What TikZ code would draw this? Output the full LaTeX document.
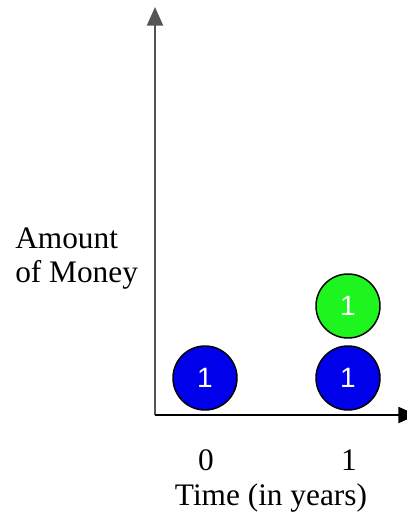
\documentclass[tikz,border=0pt]{standalone}
\usepackage{fontspec}
\setmainfont{Liberation Serif}
\setsansfont{Liberation Sans}
\usepackage{xcolor}
\usetikzlibrary{arrows.meta, positioning}
\definecolor{coinBlue}{RGB}{0, 0, 235}
\definecolor{coinGreen}{RGB}{30, 245, 30}
\definecolor{axisGray}{RGB}{85, 85, 85}
\tikzset{
  coin/.style={
    circle, draw=black, line width=1.1pt,
    minimum size=48pt, inner sep=0pt,
    text=white, font=\sffamily\fontsize{21}{21}\selectfont
  },
  axis/.style={
    -{Triangle[length=14pt,width=12pt]},
    line width=1.6pt
  },
  lbl/.style={
    font=\fontsize{23.5}{25.5}\selectfont, inner sep=0pt, align=left
  }
}

\begin{document}
\begin{tikzpicture}[x=0.75pt, y=-0.75pt]
\useasboundingbox (0,0) rectangle (407,515);

% --- axes ---
\coordinate (origin) at (155,415);
\coordinate (ytip) at (155,7);
\coordinate (xtip) at (417,415);
\draw[axis, color=axisGray] (origin) -- (ytip);
\draw[axis, color=black] (origin) -- (xtip);

% --- money ---
\node[coin, fill=coinBlue] (now) at (205,378) {1};
\node[coin, fill=coinBlue] (later) at (348,378) {1};
\node[coin, fill=coinGreen] (interest) at (348,306) {1};

% --- labels ---
\node[lbl, anchor=base west] (ylabel) at (15,282) {Amount\\of Money};
\node[lbl, anchor=base] (t0) at (206,470) {0};
\node[lbl, anchor=base] (t1) at (349,470) {1};
\node[lbl, anchor=base] (xlabel) at (271,505) {Time (in years)};

\end{tikzpicture}
\end{document}
